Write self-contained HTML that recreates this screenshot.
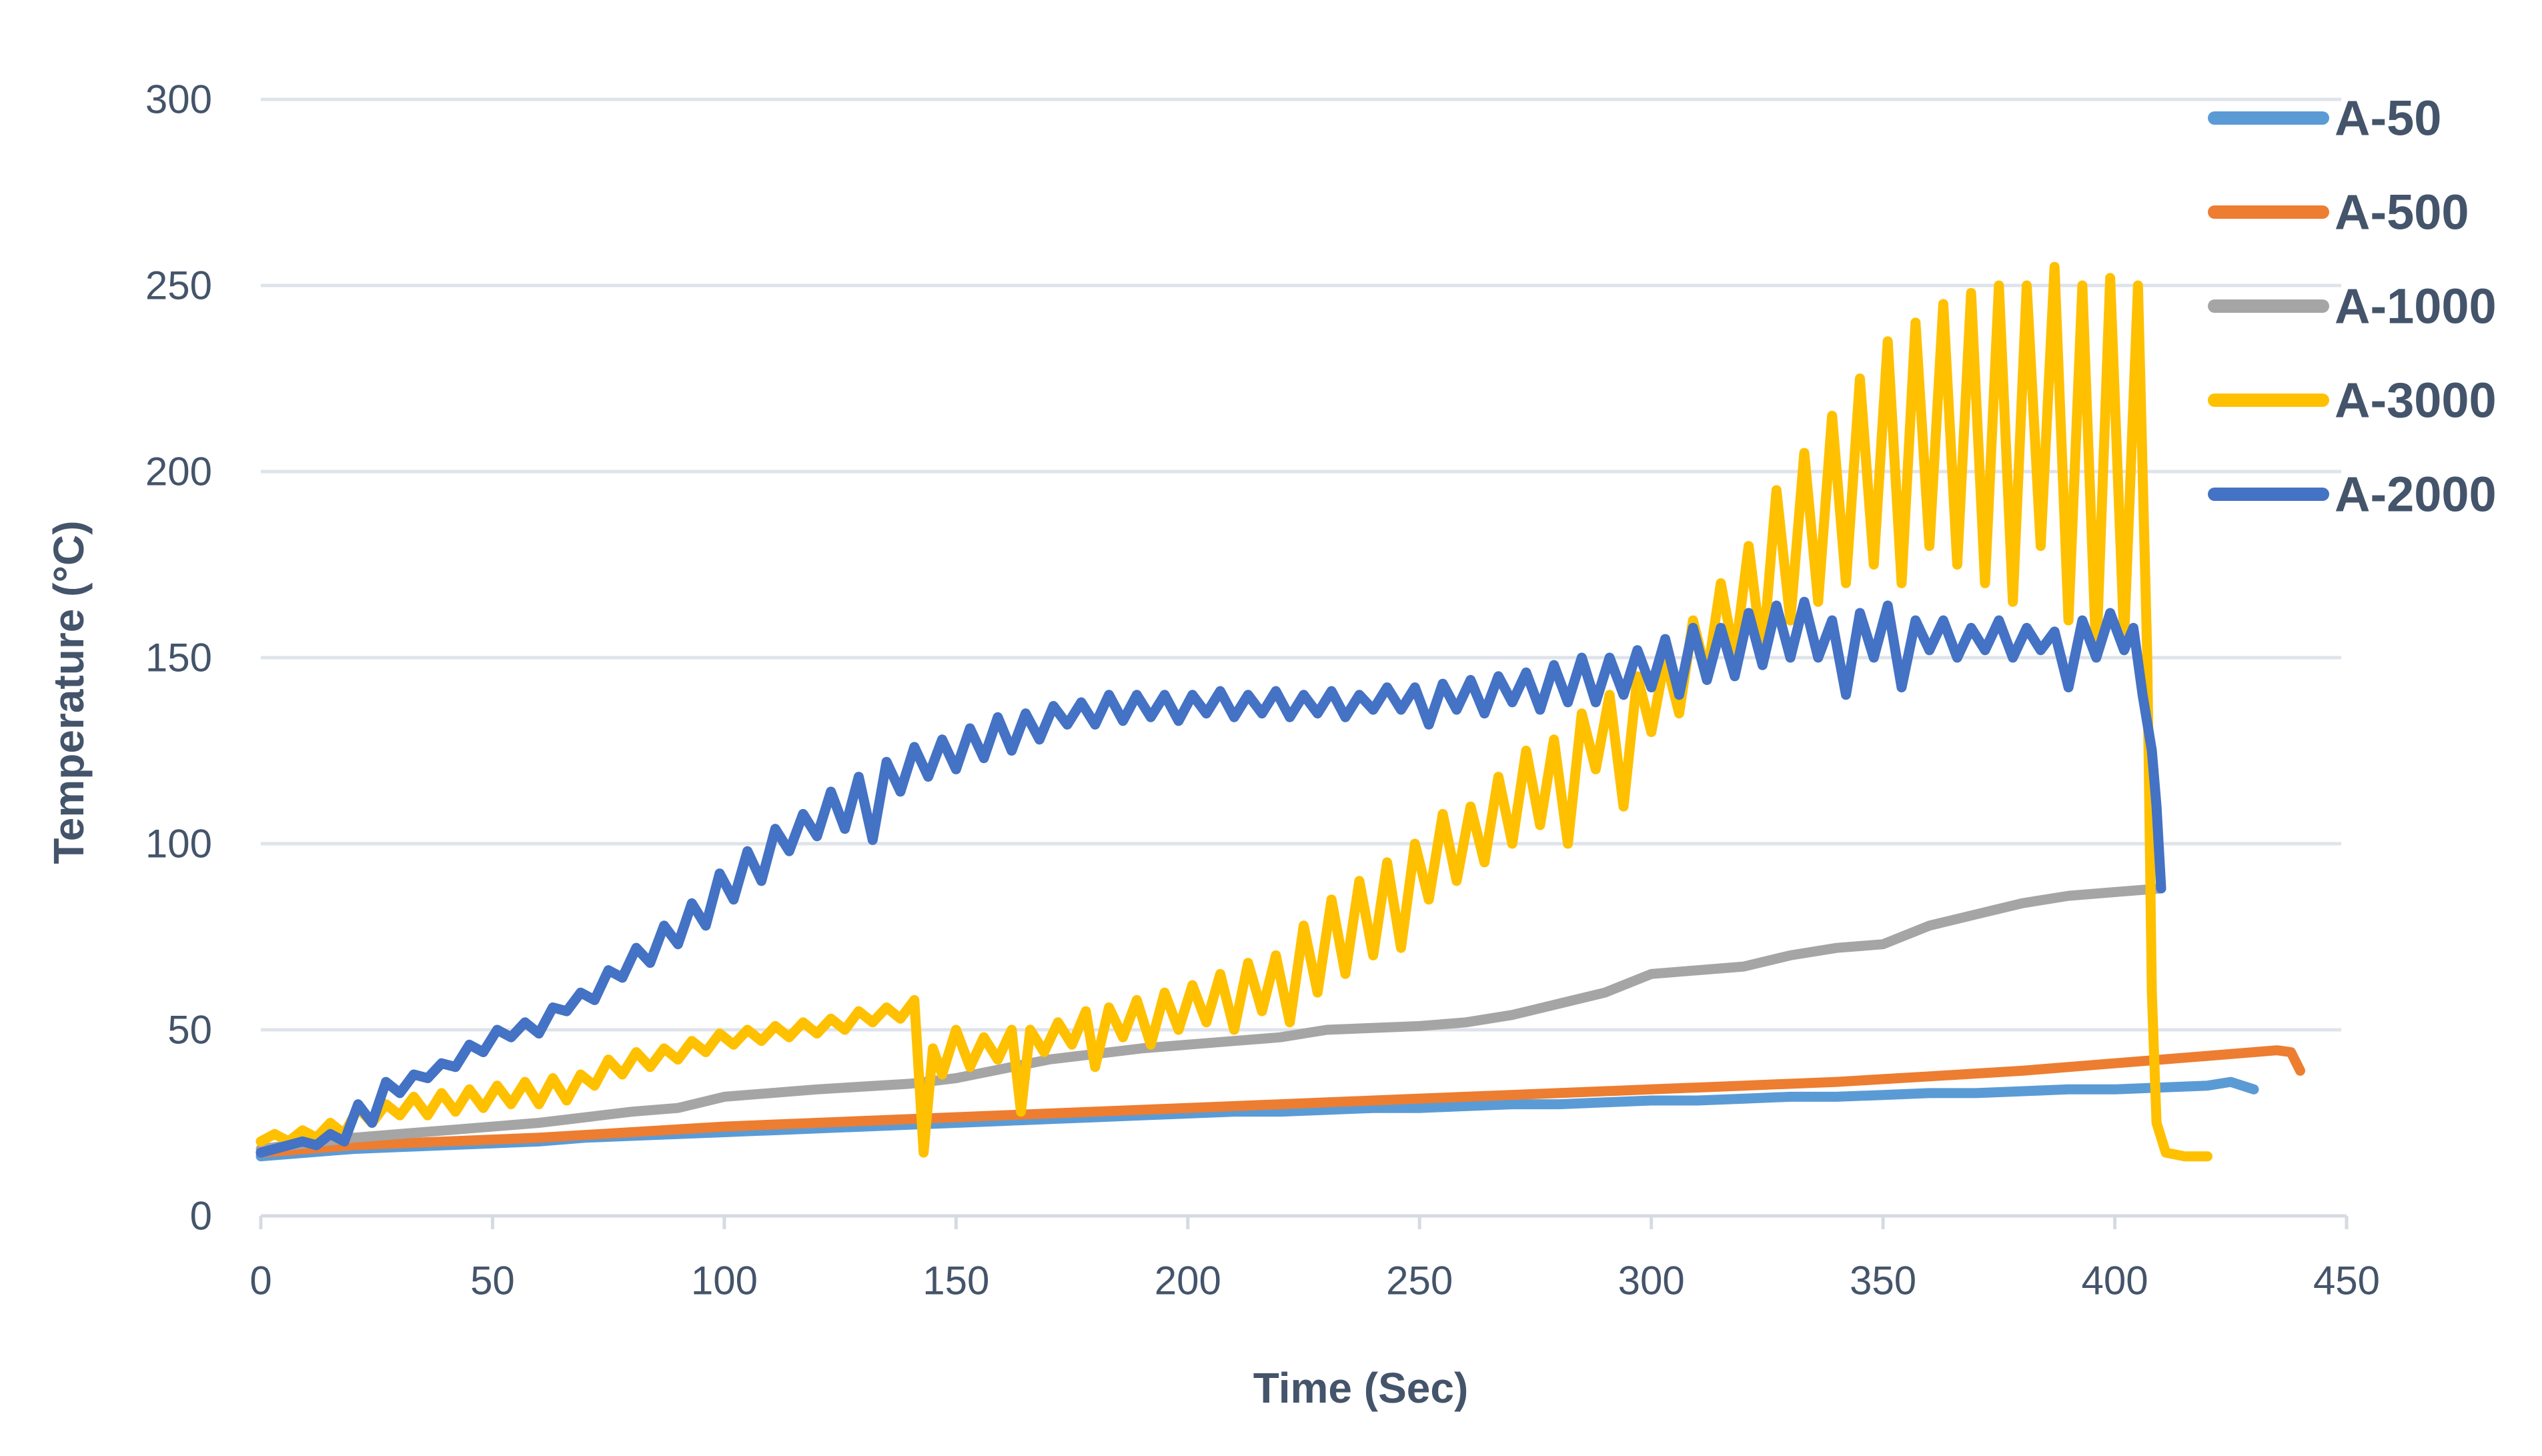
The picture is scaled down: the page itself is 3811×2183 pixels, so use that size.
<!DOCTYPE html>
<html><head><meta charset="utf-8"><style>
html,body{margin:0;padding:0;background:#fff;}
svg{display:block;}
text{font-family:"Liberation Sans",sans-serif;fill:#44546a;}
</style></head><body>
<svg id="chart" width="3811" height="2183" viewBox="0 0 3811 2183" xmlns="http://www.w3.org/2000/svg">
<g id="grid"></g>
<g id="yticks"></g>
<g id="xticks"></g>
<g id="series"></g>
<text x="103" y="1038" transform="rotate(-90 103 1038)" text-anchor="middle" dominant-baseline="central" font-size="64" font-weight="bold">Temperature (°C)</text>
<text x="2040" y="2103" text-anchor="middle" font-size="64" font-weight="bold">Time (Sec)</text>
<g id="legend"></g>
</svg>
<script>
const yTickLabels=["0","50","100","150","200","250","300"];
const yTickValues=[0,50,100,150,200,250,300];
const xTickValues=[0,50,100,150,200,250,300,350,400,450];
const xTickLabels=["0","50","100","150","200","250","300","350","400","450"];
const seriesNames=["A-50","A-500","A-1000","A-3000","A-2000"];
const seriesColors=["#5b9bd5","#ed7d31","#a5a5a5","#ffc000","#4472c4"];

const t50=[0,10,20,30,40,50,60,70,80,90,100,110,120,130,140,150,160,170,180,190,200,210,220,230,240,250,260,270,280,290,300,310,320,330,340,350,360,370,380,390,400,410,420,425,430];
const v50=[16,17,18,18.5,19,19.5,20,21,21.5,22,22.5,23,23.5,24,24.5,25,25.5,26,26.5,27,27.5,28,28,28.5,29,29,29.5,30,30,30.5,31,31,31.5,32,32,32.5,33,33,33.5,34,34,34.5,35,36,34];

const t500=[0,20,40,60,80,100,120,140,160,180,200,220,240,260,280,300,320,340,360,380,400,420,435,438,440];
const v500=[17,19,20,21,22.5,24,25,26,27,28,29,30,31,32,33,34,35,36,37.5,39,41,43,44.5,44,39];

const t1000=[0,20,40,60,80,90,100,120,140,150,170,190,210,220,230,250,260,270,280,290,300,320,330,340,350,360,370,380,390,400,410];
const v1000=[18,21,23,25,28,29,32,34,35.5,37,42,45,47,48,50,51,52,54,57,60,65,67,70,72,73,78,81,84,86,87,88];

const t3000=[0,3,6,9,12,15,18,21,24,27,30,33,36,39,42,45,48,51,54,57,60,63,66,69,72,75,78,81,84,87,90,93,96,99,102,105,108,111,114,117,120,123,126,129,132,135,138,141,143,145,147,150,153,156,159,162,164,166,169,172,175,178,180,183,186,189,192,195,198,201,204,207,210,213,216,219,222,225,228,231,234,237,240,243,246,249,252,255,258,261,264,267,270,273,276,279,282,285,288,291,294,297,300,303,306,309,312,315,318,321,324,327,330,333,336,339,342,345,348,351,354,357,360,363,366,369,372,375,378,381,384,387,390,393,396,399,402,405,407,408,409,411,415,420];
const v3000=[20,22,20,23,21,25,22,29,25,30,27,32,27,33,28,34,29,35,30,36,30,37,31,38,35,42,38,44,40,45,42,47,44,49,46,50,47,51,48,52,49,53,50,55,52,56,53,58,17,45,38,50,40,48,42,50,28,50,44,52,46,55,40,56,48,58,46,60,50,62,52,65,50,68,55,70,52,78,60,85,65,90,70,95,72,100,85,108,90,110,95,118,100,125,105,128,100,135,120,140,110,145,130,150,135,160,145,170,150,180,150,195,160,205,165,215,170,225,175,235,170,240,180,245,175,248,170,250,165,250,180,255,160,250,150,252,155,250,150,60,25,17,16,16];

const t2000=[0,3,6,9,12,15,18,21,24,27,30,33,36,39,42,45,48,51,54,57,60,63,66,69,72,75,78,81,84,87,90,93,96,99,102,105,108,111,114,117,120,123,126,129,132,135,138,141,144,147,150,153,156,159,162,165,168,171,174,177,180,183,186,189,192,195,198,201,204,207,210,213,216,219,222,225,228,231,234,237,240,243,246,249,252,255,258,261,264,267,270,273,276,279,282,285,288,291,294,297,300,303,306,309,312,315,318,321,324,327,330,333,336,339,342,345,348,351,354,357,360,363,366,369,372,375,378,381,384,387,390,393,396,399,402,404,406,408,409,410];
const v2000=[17,18,19,20,19,22,20,30,25,36,33,38,37,41,40,46,44,50,48,52,49,56,55,60,58,66,64,72,68,78,73,84,78,92,85,98,90,104,98,108,102,114,104,118,101,122,114,126,118,128,120,131,123,134,125,135,128,137,132,138,132,140,133,140,134,140,133,140,135,141,134,140,135,141,134,140,135,141,134,140,136,142,136,142,132,143,136,144,135,145,138,146,136,148,138,150,138,150,140,152,142,155,140,158,144,158,145,162,148,164,150,165,150,160,140,162,150,164,142,160,152,160,150,158,152,160,150,158,152,157,142,160,150,162,152,158,140,125,110,88];

const seriesT=[t50,t500,t1000,t3000,t2000];
const seriesV=[v50,v500,v1000,v3000,v2000];
const drawOrder=[0,1,2,3,4];

const NS="http://www.w3.org/2000/svg";
const X0=391,X1=3518,Y0=1823,Y1=149,XMAX=450,YMAX=300;
function xs(t){return X0+t*(X1-X0)/XMAX;}
function ys(v){return Y0-v*(Y0-Y1)/YMAX;}
function mk(tag,attrs,parent){const e=document.createElementNS(NS,tag);for(const k in attrs)e.setAttribute(k,attrs[k]);parent.appendChild(e);return e;}

const grid=document.getElementById('grid');
const yt=document.getElementById('yticks');
yTickValues.forEach((v,i)=>{
  if(v>0){
    const g=mk('line',{x1:X0,x2:3510,y1:ys(v),y2:ys(v),stroke:'#dfe3ea','stroke-width':5},grid);
    
    
  }
  const t=mk('text',{x:318,y:ys(v),'text-anchor':'end','dominant-baseline':'central','font-size':60},yt);
  t.textContent=yTickLabels[i];
  
  
});
const ax=mk('line',{x1:X0,x2:X1,y1:Y0,y2:Y0,stroke:'#d6dae2','stroke-width':5},grid);


const xt=document.getElementById('xticks');
xTickValues.forEach((v,i)=>{
  const tk=mk('line',{x1:xs(v),x2:xs(v),y1:Y0,y2:Y0+20,stroke:'#d6dae2','stroke-width':5},xt);
  
  
  const t=mk('text',{x:xs(v),y:1920,'text-anchor':'middle','dominant-baseline':'central','font-size':60},xt);
  t.textContent=xTickLabels[i];
  
  
});

const sg=document.getElementById('series');
drawOrder.forEach(i=>{
  const pts=seriesT[i].map((t,j)=>xs(t).toFixed(1)+','+ys(seriesV[i][j]).toFixed(1)).join(' ');
  const p=mk('polyline',{points:pts,fill:'none',stroke:seriesColors[i],'stroke-width':15,'stroke-linejoin':'round','stroke-linecap':'round'},sg);
  
  
});

const lg=document.getElementById('legend');
seriesNames.forEach((n,i)=>{
  const y=177+i*141;
  const l=mk('line',{x1:3320,x2:3482,y1:y,y2:y,stroke:seriesColors[i],'stroke-width':20,'stroke-linecap':'round'},lg);
  
  
  const t=mk('text',{x:3500,y:y,'dominant-baseline':'central','font-size':74,'font-weight':'bold'},lg);
  t.textContent=n;
  
  
});
</script>
</body></html>
